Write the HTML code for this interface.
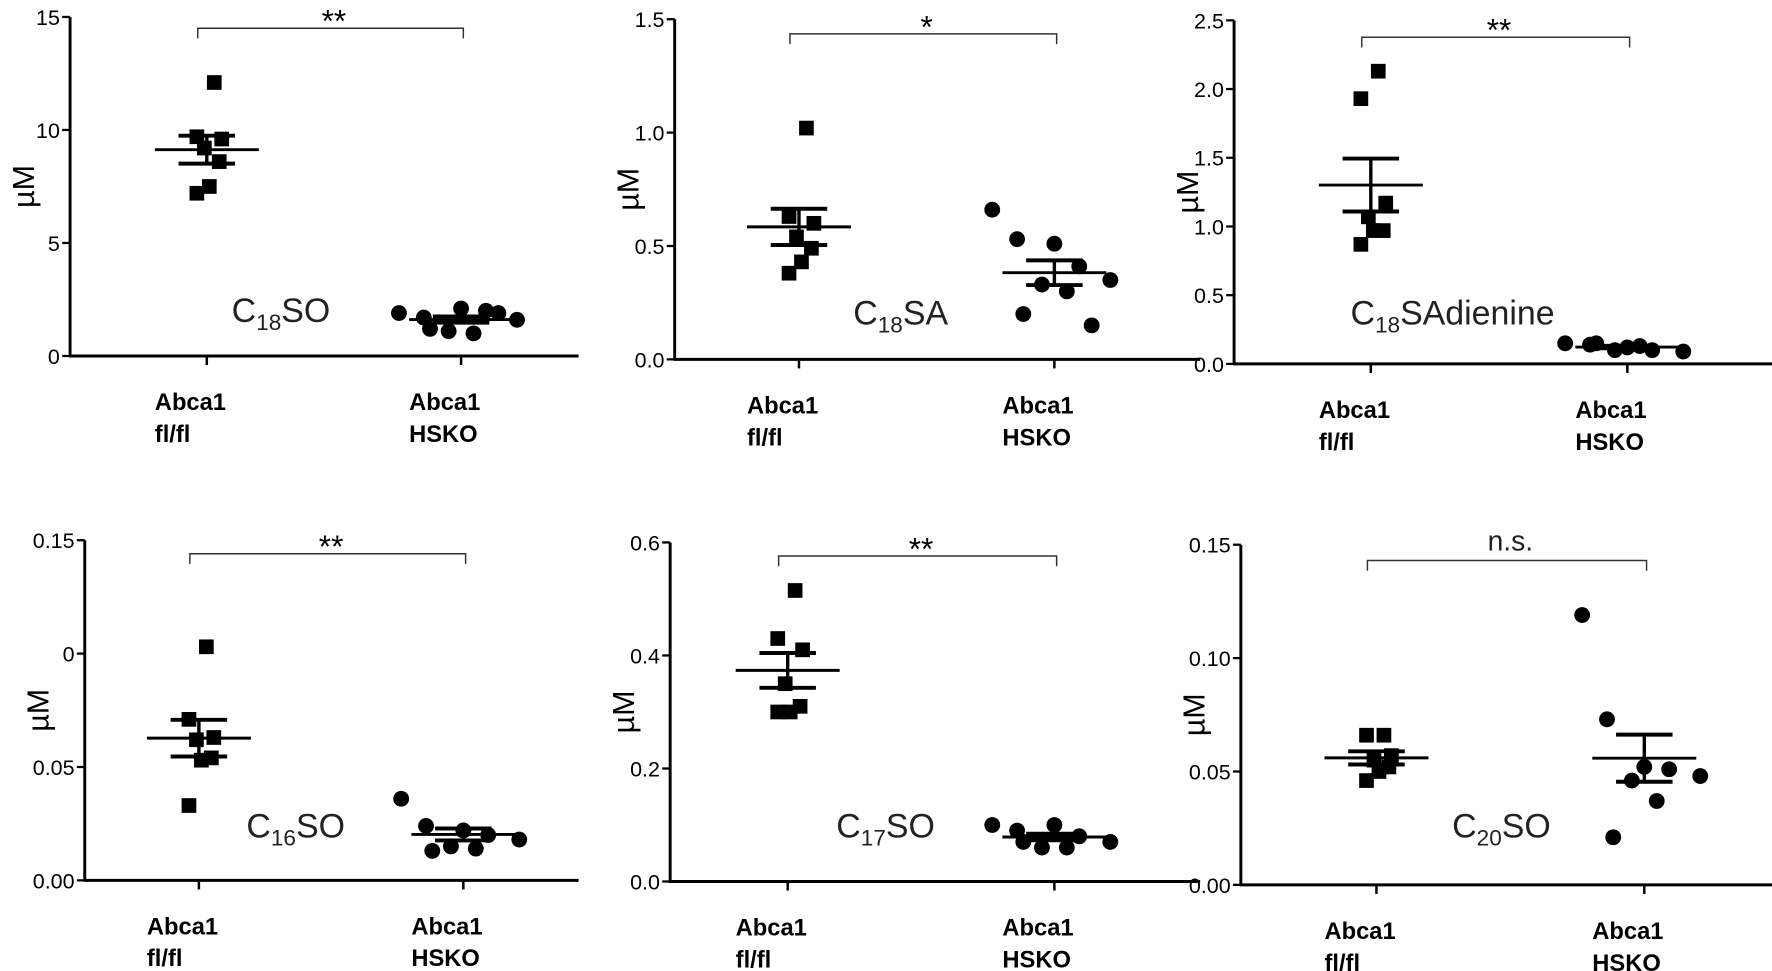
<!DOCTYPE html>
<html><head><meta charset="utf-8">
<style>
html,body{margin:0;padding:0;background:#fff;}
svg{display:block;}
text{font-family:"Liberation Sans",Arial,sans-serif;fill:#000;}
.tick{font-size:19px;}
.cat{font-size:21px;font-weight:bold;}
.yl{font-size:27px;}
.cmp{font-size:30px;fill:#222;}
.sig{font-size:28px;}
</style></head>
<body>
<svg id="fig" width="1772" height="971" viewBox="0 0 1568 859.2" preserveAspectRatio="none" xmlns="http://www.w3.org/2000/svg"></svg>
<script>
// ---- data ----
const categories = ["Abca1|fl/fl", "Abca1|HSKO"];
const compounds = ["C18SO","C18SA","C18SAdienine","C16SO","C17SO","C20SO"];
const significance = ["**","*","**","**","**","n.s."];
const flfl_C18SO = [12.1,9.7,9.6,9.2,8.6,7.5,7.2];
const hsko_C18SO = [1.9,1.7,2.1,2.0,1.6,1.1,1.0,1.2,1.9];
const flfl_C18SA = [1.02,0.63,0.60,0.54,0.49,0.43,0.38];
const hsko_C18SA = [0.66,0.53,0.51,0.41,0.35,0.33,0.30,0.20,0.15];
const flfl_C18SAd = [2.13,1.93,1.17,1.07,0.97,0.97,0.87];
const hsko_C18SAd = [0.15,0.14,0.12,0.10,0.09,0.10,0.13,0.15];
const flfl_C16SO = [0.103,0.071,0.063,0.062,0.054,0.053,0.033];
const hsko_C16SO = [0.036,0.024,0.022,0.020,0.018,0.015,0.014,0.013];
const flfl_C17SO = [0.515,0.43,0.41,0.35,0.31,0.30,0.30];
const hsko_C17SO = [0.10,0.09,0.10,0.08,0.07,0.06,0.06,0.07];
const flfl_C20SO = [0.066,0.066,0.057,0.055,0.052,0.050,0.046];
const hsko_C20SO = [0.119,0.073,0.052,0.051,0.048,0.046,0.037,0.021];
const ticks1 = ["0","5","10","15"];
const ticks2 = ["0.0","0.5","1.0","1.5"];
const ticks3 = ["0.0","0.5","1.0","1.5","2.0","2.5"];
const ticks4 = ["0.00","0.05","0","0.15"];
const ticks5 = ["0.0","0.2","0.4","0.6"];
const ticks6 = ["0.00","0.05","0.10","0.15"];
const yMax = [15,1.5,2.5,0.15,0.6,0.15];

const groups = [[flfl_C18SO,hsko_C18SO],[flfl_C18SA,hsko_C18SA],[flfl_C18SAd,hsko_C18SAd],
                [flfl_C16SO,hsko_C16SO],[flfl_C17SO,hsko_C17SO],[flfl_C20SO,hsko_C20SO]];
const tickSets = [ticks1,ticks2,ticks3,ticks4,ticks5,ticks6];

// layout (main-image coordinates)
const layout = [
 {ax:62, top:15, bot:315, c:[183,408], xe:512, bry:25, subs:"18", base:"SO", lx:205, ly:285},
 {ax:597,top:17, bot:318, c:[707,933], xe:1062,bry:30, subs:"18", base:"SA", lx:755, ly:287},
 {ax:1092,top:18,bot:322, c:[1213,1440],xe:1568,bry:33,subs:"18", base:"SAdienine", lx:1195, ly:287},
 {ax:75, top:478,bot:779, c:[176,410], xe:512, bry:490, subs:"16", base:"SO", lx:218, ly:741},
 {ax:593,top:480,bot:780, c:[697,933], xe:1062,bry:492, subs:"17", base:"SO", lx:740, ly:741},
 {ax:1098,top:482,bot:783,c:[1218,1455],xe:1568,bry:496, subs:"20", base:"SO", lx:1285, ly:741}
];
const svg = document.getElementById('fig');
const NS = "http://www.w3.org/2000/svg";
function mk(tag, attrs, parent){const e=document.createElementNS(NS,tag);for(const k in attrs)e.setAttribute(k,attrs[k]);(parent||svg).appendChild(e);return e;}
function mean(a){return a.reduce((s,v)=>s+v,0)/a.length;}
function sem(a){const m=mean(a);const v=a.reduce((s,x)=>s+(x-m)*(x-m),0)/(a.length-1);return Math.sqrt(v/a.length);}
const jitterSq=[0.3,-0.4,0.6,-0.1,0.5,0.1,-0.4];
const jitterCi=[-1,-0.6,0,0.4,0.9,-0.2,0.2,-0.5,0.6];

layout.forEach((L,p)=>{
  const g = mk('g',{});
  
  
  const ys = v => L.bot - (v/yMax[p])*(L.bot-L.top);
  const ya=mk('line',{x1:L.ax,y1:L.top,x2:L.ax,y2:L.bot+1,stroke:'#000','stroke-width':2.6},g);
  
  
  const xa=mk('line',{x1:L.ax-1,y1:L.bot,x2:L.xe,y2:L.bot,stroke:'#000','stroke-width':2.6},g);
  
  
  const tk=tickSets[p];
  tk.forEach((t,i)=>{
    const v=yMax[p]*i/(tk.length-1); const y=ys(v);
    mk('line',{x1:L.ax-7,y1:y,x2:L.ax,y2:y,stroke:'#000','stroke-width':2},g);
    const tt=mk('text',{x:L.ax-9,y:y+7,'text-anchor':'end',class:'tick'},g);
    tt.textContent=t;
    
    
  });
  const yl=mk('text',{x:0,y:0,class:'yl','text-anchor':'middle',transform:`translate(${L.ax-32},${(L.top+L.bot)/2}) rotate(-90)`},g);
  yl.textContent='µM';
  
  
  L.c.forEach((cx,ci)=>{
    mk('line',{x1:cx,y1:L.bot,x2:cx,y2:L.bot+8,stroke:'#000','stroke-width':2.2},g);
    const parts=categories[ci].split('|');
    const t1=mk('text',{x:cx-46,y:L.bot+48,class:'cat'},g); t1.textContent=parts[0];
    
    
    const t2=mk('text',{x:cx-46,y:L.bot+76,class:'cat'},g); t2.textContent=parts[1];
    
    
    const vals=groups[p][ci];
    vals.forEach((v,i)=>{
      let m;
      if(ci===0){const jx=cx+jitterSq[i%jitterSq.length]*22;
        m=mk('rect',{x:jx-6.5,y:ys(v)-6.5,width:13,height:13,fill:'#000'},g);
        
      } else {const jx=cx+jitterCi[i%jitterCi.length]*55;
        m=mk('circle',{cx:jx,cy:ys(v),r:7,fill:'#000'},g);
        
      }
      
    });
    const mu=mean(vals), se=sem(vals);
    const ml=mk('line',{x1:cx-46,y1:ys(mu),x2:cx+46,y2:ys(mu),stroke:'#000','stroke-width':2.6},g);
    
    
    [mu+se,mu-se].forEach(v=>{
      const el=mk('line',{x1:cx-25,y1:ys(v),x2:cx+25,y2:ys(v),stroke:'#000','stroke-width':3.5},g);
      
      
    });
    const ev=mk('line',{x1:cx,y1:ys(mu+se),x2:cx,y2:ys(mu-se),stroke:'#000','stroke-width':3},g);
    
    
  });
  const b=mk('path',{d:`M${L.c[0]-8},${L.bry+9}V${L.bry}H${L.c[1]+2}V${L.bry+9}`,fill:'none',stroke:'#333','stroke-width':1.3},g);
  
  
  const s=mk('text',{x:(L.c[0]+L.c[1])/2,y:significance[p]==='n.s.'?L.bry-9:L.bry+3,'text-anchor':'middle',class:'sig'},g);
  if(significance[p]==='n.s.') s.setAttribute('style','font-size:25px;fill:#222');
  s.textContent=significance[p];
  
  
  const c=mk('text',{x:L.lx,y:L.ly,class:'cmp'},g);
  
  
  const a=mk('tspan',{},c); a.textContent='C';
  const sb=mk('tspan',{dy:7,style:'font-size:20px'},c); sb.textContent=L.subs;
  const bs=mk('tspan',{dy:-7},c); bs.textContent=L.base;
});
</script>
</body></html>
